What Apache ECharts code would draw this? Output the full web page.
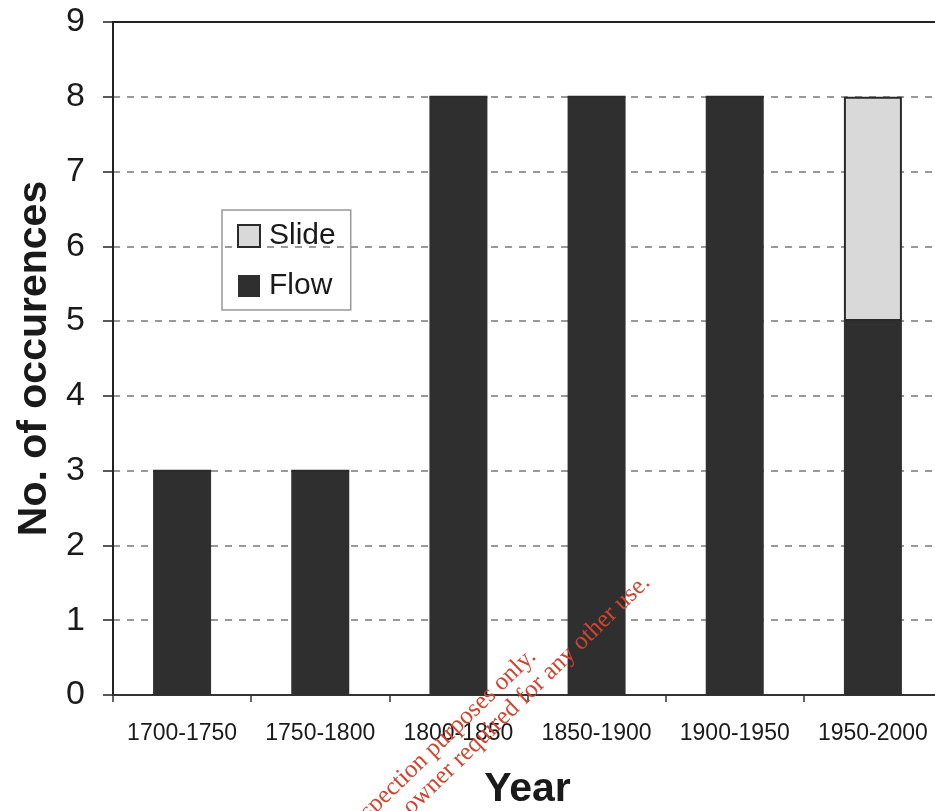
<!DOCTYPE html>
<html>
<head>
<meta charset="utf-8">
<script src="https://cdn.jsdelivr.net/npm/echarts@6/dist/echarts.min.js"></script>
<style>
html,body{margin:0;padding:0;background:#fff;overflow:hidden;}
#chart{width:935px;height:811px;}
</style>
</head>
<body>
<div id="chart"></div>
<script>
const categories = ['1700-1750','1750-1800','1800-1850','1850-1900','1900-1950','1950-2000'];
const flowValues = [3, 3, 8, 8, 8, 5];
const slideValues = [0, 0, 0, 0, 0, 3];
const yTicks = [0,1,2,3,4,5,6,7,8,9];
const watermarkLines = ['For inspection purposes only.', 'Consent of copyright owner required for any other use.'];

const chart = echarts.init(document.getElementById('chart'), null, {renderer:'canvas'});
const font = 'Liberation Sans, Arial, sans-serif';
const ang = 44 * Math.PI / 180;

chart.setOption({
  backgroundColor: '#fff',
  animation: false,
  grid: {left: 113, right: -7, top: 22, bottom: 116, containLabel: false, outerBoundsMode: 'none'},
  legend: {
    data: ['Slide','Flow'],
    orient: 'vertical',
    left: 222, top: 210,
    padding: [11, 15, 9, 15],
    borderColor: '#999', borderWidth: 1.5,
    icon: 'rect',
    itemWidth: 22, itemHeight: 22, itemGap: 20,
    textStyle: {fontFamily: font, fontSize: 30, color: '#1a1a1a', padding: [0,0,0,4]}
  },
  xAxis: [{
    type: 'category',
    data: categories,
    axisLine: {lineStyle: {color: '#333', width: 2}},
    axisTick: {show: true, length: 7, lineStyle: {color: '#333', width: 1.5}},
    axisLabel: {fontFamily: font, fontSize: 23, color: '#1a1a1a', margin: 27, interval: 0},
    name: 'Year', nameLocation: 'middle', nameGap: 74,
    nameTextStyle: {fontFamily: font, fontSize: 41, fontWeight: 'bold', color: '#1a1a1a'}
  },{
    type: 'category',
    data: categories,
    position: 'top',
    axisLine: {lineStyle: {color: '#222', width: 2}},
    axisTick: {show: false},
    axisLabel: {show: false}
  }],
  yAxis: {
    type: 'value',
    min: yTicks[0], max: yTicks[yTicks.length-1], interval: 1,
    axisLine: {show: true, lineStyle: {color: '#222', width: 2}},
    axisTick: {show: true, length: 10, lineStyle: {color: '#222', width: 1.5}},
    axisLabel: {fontFamily: font, fontSize: 34, color: '#1a1a1a', margin: 28},
    splitLine: {show: true, lineStyle: {color: '#999', width: 2, type: [7, 7]}},
    name: 'No. of occurences', nameLocation: 'middle', nameGap: 58,
    nameTextStyle: {fontFamily: font, fontSize: 41, fontWeight: 'bold', color: '#1a1a1a'}
  },
  series: [{
    name: 'Flow', type: 'bar', stack: 'total',
    data: flowValues, barWidth: 58,
    itemStyle: {color: '#2f2f2f'}
  },{
    name: 'Slide', type: 'bar', stack: 'total',
    data: slideValues, barWidth: 58,
    itemStyle: {color: '#d9d9d9', borderColor: '#2a2a2a', borderWidth: 2}
  }],
  graphic: [{
    type: 'text', x: 541, y: 662, rotation: ang, z: 100,
    style: {text: watermarkLines[0], fill: '#d0452f', font: '25px "Liberation Serif", "Times New Roman", serif', textAlign: 'right', textVerticalAlign: 'bottom'}
  },{
    type: 'text', x: 655, y: 588, rotation: ang, z: 100,
    style: {text: watermarkLines[1], fill: '#d0452f', font: '25px "Liberation Serif", "Times New Roman", serif', textAlign: 'right', textVerticalAlign: 'bottom'}
  }]
});
</script>
</body>
</html>
